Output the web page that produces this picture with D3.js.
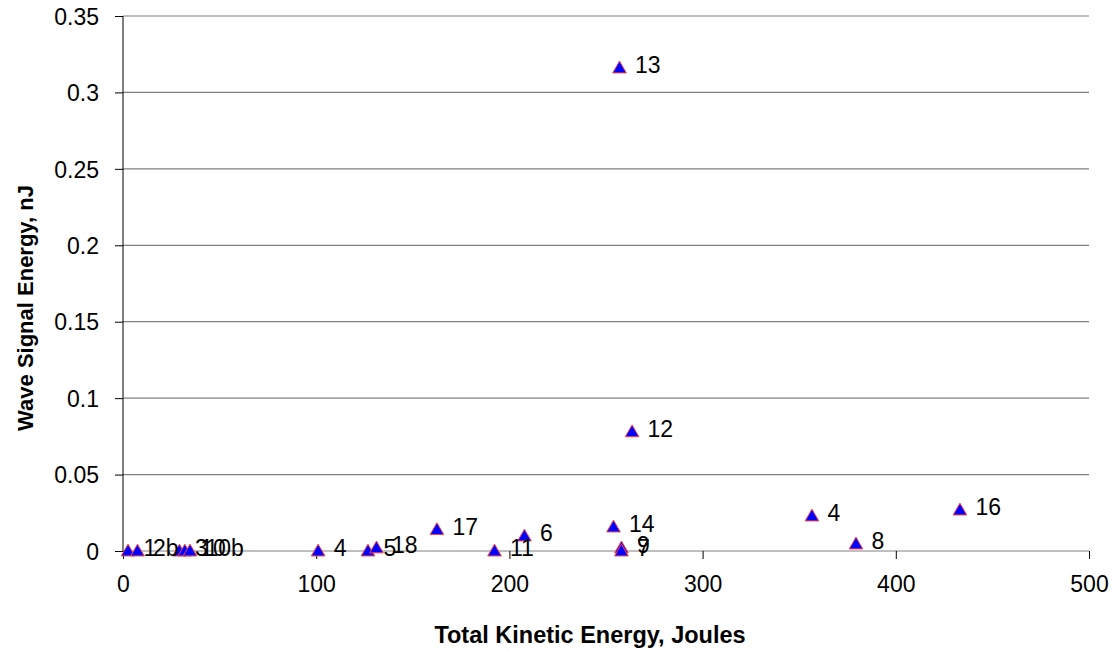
<!DOCTYPE html>
<html><head><meta charset="utf-8">
<script src="https://cdn.jsdelivr.net/npm/d3@7"></script>
<style>
body{margin:0;background:#fff;}
svg{display:block;font-family:"Liberation Sans",Arial,sans-serif;}
</style></head>
<body>
<svg id="chart" width="1117" height="652"></svg>
<script>
const labels = ["1","2b","3","10","10b","4","5","18","17","11","6","14","9","7","13","12","4","8","16"];
const kinetic = [2.6,7.5,29.2,32,34.7,101,126.8,131.2,162.5,192.3,207.8,253.9,258,258,257,263.5,356.6,379.4,433.2];
const wave = [0,0,0,0,0,0,0,0.002,0.014,0,0.0098,0.0157,0.002,0,0.316,0.078,0.0229,0.0046,0.0268];
const xTicks = [0,100,200,300,400,500];
const yTicks = [0,0.05,0.1,0.15,0.2,0.25,0.3,0.35];

const svg = d3.select("#chart");
const L = 123, R = 1089, T = 16, B = 551;
const x = d3.scaleLinear().domain([0,500]).range([L,R]);
const y = d3.scaleLinear().domain([0,0.35]).range([B,T]);
const FONT = "Liberation Sans, Arial, sans-serif";

// gridlines
svg.append("g").selectAll("line").data(yTicks).join("line")
  .attr("x1",L).attr("x2",R).attr("y1",d=>y(d)).attr("y2",d=>y(d))
  .attr("stroke","#808080").attr("stroke-width",1.2);

// y axis
const yAxis = d3.axisLeft(y).tickValues(yTicks).tickSize(8).tickPadding(16)
  .tickFormat(d=>d===0?"0":String(+d.toFixed(2)));
const gy = svg.append("g").attr("transform",`translate(${L},0)`).call(yAxis);
gy.select(".domain").attr("stroke","#000").attr("d",`M0,${T}V${B}`);
gy.selectAll(".tick line").attr("stroke","#000");
gy.selectAll("text").attr("font-size",23).attr("fill","#000").attr("font-family",FONT)
  .attr("dy","0.36em");

// x axis
const xAxis = d3.axisBottom(x).tickValues(xTicks).tickSize(8).tickPadding(17).tickFormat(d3.format("d"));
const gx = svg.append("g").attr("transform",`translate(0,${B})`).call(xAxis);
gx.select(".domain").remove();
gx.selectAll(".tick line").attr("stroke","#000");
gx.selectAll("text").attr("font-size",23).attr("fill","#000").attr("font-family",FONT);

// points
const data = labels.map((l,i)=>({l, x:kinetic[i], y:wave[i]}));
const tri = d3.symbol().type(d3.symbolTriangle).size(80);
svg.append("g").selectAll("path").data(data).join("path")
  .attr("d",tri)
  .attr("transform",d=>`translate(${x(d.x)},${y(d.y)+1})`)
  .attr("fill","#0000ff").attr("stroke","#ff4040").attr("stroke-width",1);

svg.append("g").selectAll("text").data(data).join("text")
  .attr("x",d=>x(d.x)+15.5).attr("y",d=>y(d.y)+5)
  .attr("font-size",23).attr("fill","#000")
  .text(d=>d.l);

// axis titles
svg.append("text").attr("x",590).attr("y",643).attr("text-anchor","middle")
  .attr("font-size",23.5).attr("font-weight","bold").text("Total Kinetic Energy, Joules");
svg.append("text").attr("transform","translate(33,308) rotate(-90)").attr("text-anchor","middle")
  .attr("font-size",22).attr("font-weight","bold").text("Wave Signal Energy, nJ");
</script>
</body></html>
